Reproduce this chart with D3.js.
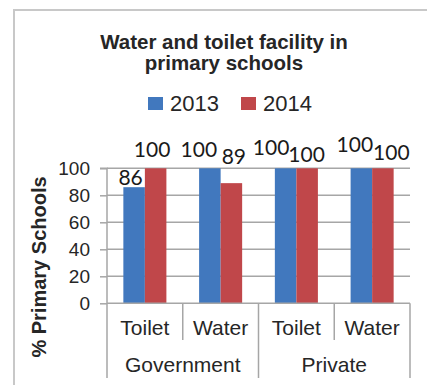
<!DOCTYPE html>
<html>
<head>
<meta charset="utf-8">
<script src="https://cdn.jsdelivr.net/npm/d3@7"></script>
<style>
  html, body { margin: 0; padding: 0; background: #fff; }
  svg { display: block; }
</style>
</head>
<body>
<div id="chart"></div>
<script>
const titleLines = ["Water and toilet facility in", "primary schools"];
const groups = ["Government", "Private"];
const facilities = ["Toilet", "Water"];
const seriesNames = ["2013", "2014"];
const values2013 = [86, 100, 100, 100];
const values2014 = [100, 89, 100, 100];
const yTicks = [0, 20, 40, 60, 80, 100];
const yTitle = "% Primary Schools";
const colors = ["#4178be", "#c0474a"];

(function () {
const W = 427, H = 385;
const svg = d3.select("#chart").append("svg").attr("width", W).attr("height", H);
svg.append("rect").attr("width", W).attr("height", H).attr("fill", "#fff");
// outer chart frame
svg.append("rect").attr("x", 14).attr("y", 10).attr("width", W + 20).attr("height", H + 20)
  .attr("fill", "none").attr("stroke", "#c8c8c8").attr("stroke-width", 2);

const cats = [];
groups.forEach(g => facilities.forEach(f => cats.push({ group: g, facility: f, key: g + "|" + f })));
const rows = cats.map((c, i) => ({ ...c, vals: [values2013[i], values2014[i]] }));

const pL = 107, pR = 410, pT = 168.3, pB = 303.3;
const x0 = d3.scaleBand().domain(cats.map(c => c.key)).range([pL, pR]).paddingInner(0).paddingOuter(0);
const x1 = d3.scaleBand().domain(seriesNames).range([0, x0.bandwidth()]).paddingInner(0).paddingOuter(0.76);
const y = d3.scaleLinear().domain([0, 100]).range([pB, pT]);

const font = "'Liberation Sans', Arial, sans-serif";
const textColor = "#262626";
const axisColor = "#a6a6a6";

// Title
svg.append("g").selectAll("text").data(titleLines).join("text")
  .attr("x", 224).attr("y", (d, i) => 49 + i * 21)
  .attr("text-anchor", "middle").attr("font-family", font).attr("font-weight", "bold")
  .attr("font-size", 20.5).attr("fill", textColor).text(d => d);

// Legend
const legX = [148, 241];
const leg = svg.append("g").selectAll("g").data(seriesNames).join("g")
  .attr("transform", (d, i) => `translate(${legX[i]},97)`);
leg.append("rect").attr("width", 15).attr("height", 13).attr("fill", (d, i) => colors[i]);
leg.append("text").attr("x", 22).attr("y", 13.5).attr("font-family", font).attr("font-size", 22)
  .attr("fill", textColor).text(d => d);

// Gridlines + y axis
const yAxis = d3.axisLeft(y).tickValues(yTicks).tickSize(7).tickPadding(10).tickFormat(d3.format("d"));
const gy = svg.append("g").attr("transform", `translate(${pL},0)`).call(yAxis);
gy.select(".domain").attr("stroke", axisColor).attr("stroke-width", 1.5).attr("d", `M-7,${pT}H0V${pB}`);
gy.selectAll(".tick line").attr("stroke", axisColor).attr("stroke-width", 1.5);
gy.selectAll(".tick text").attr("font-family", font).attr("font-size", 19).attr("fill", textColor);
svg.append("g").selectAll("line").data(yTicks.filter(t => t > 0)).join("line")
  .attr("x1", pL).attr("x2", pR).attr("y1", d => y(d)).attr("y2", d => y(d))
  .attr("stroke", axisColor).attr("stroke-width", 1.5);

// Bars
const catG = svg.append("g").selectAll("g").data(rows).join("g")
  .attr("transform", d => `translate(${x0(d.key)},0)`);
catG.selectAll("rect").data(d => d.vals.map((v, i) => ({ s: seriesNames[i], v, i }))).join("rect")
  .attr("x", d => x1(d.s)).attr("width", x1.bandwidth())
  .attr("y", d => y(d.v)).attr("height", d => y(0) - y(d.v))
  .attr("fill", d => colors[d.i]);

// x axis baseline
svg.append("line").attr("x1", pL).attr("x2", pR).attr("y1", pB).attr("y2", pB)
  .attr("stroke", axisColor).attr("stroke-width", 1.5);

// Category dividers
const groupEdges = [pL, x0(cats[2].key), pR];
const innerEdges = [x0(cats[1].key), x0(cats[3].key)];
svg.append("g").selectAll("line").data(groupEdges).join("line")
  .attr("x1", d => d).attr("x2", d => d).attr("y1", pB).attr("y2", 378)
  .attr("stroke", axisColor).attr("stroke-width", 1.5);
svg.append("g").selectAll("line").data(innerEdges).join("line")
  .attr("x1", d => d).attr("x2", d => d).attr("y1", pB).attr("y2", 340)
  .attr("stroke", axisColor).attr("stroke-width", 1.5);

// Category labels
svg.append("g").selectAll("text").data(cats).join("text")
  .attr("x", d => x0(d.key) + x0.bandwidth() / 2).attr("y", 335)
  .attr("text-anchor", "middle").attr("font-family", font).attr("font-size", 21)
  .attr("fill", textColor).text(d => d.facility);
svg.append("g").selectAll("text").data(groups).join("text")
  .attr("x", (d, i) => (groupEdges[i] + groupEdges[i + 1]) / 2).attr("y", 372)
  .attr("text-anchor", "middle").attr("font-family", font).attr("font-size", 21)
  .attr("fill", textColor).text(d => d);

// Y axis title
svg.append("text").attr("transform", "translate(46,267) rotate(-90)")
  .attr("text-anchor", "middle").attr("font-family", font).attr("font-weight", "bold")
  .attr("font-size", 20).attr("fill", textColor).text(yTitle);

// Data labels (Excel-like overlap-avoiding placement nudges)
const nudges = [[-3.5, -2], [-3.5, -11], [-11, -11], [2.5, -19], [-14.5, -13], [-0.5, -6], [-6.5, -16], [8.5, -8]];
const labels = [];
rows.forEach((r, ci) => r.vals.forEach((v, si) => labels.push({ key: r.key, s: seriesNames[si], v, idx: ci * 2 + si })));
svg.append("g").selectAll("text").data(labels).join("text")
  .attr("x", d => x0(d.key) + x1(d.s) + x1.bandwidth() / 2 + nudges[d.idx][0])
  .attr("y", d => y(d.v) + nudges[d.idx][1])
  .attr("text-anchor", "middle").attr("font-family", "Lato, 'Open Sans', sans-serif")
  .attr("font-size", 21).attr("fill", "#1a1a1a").text(d => d.v);
})();
</script>
</body>
</html>
